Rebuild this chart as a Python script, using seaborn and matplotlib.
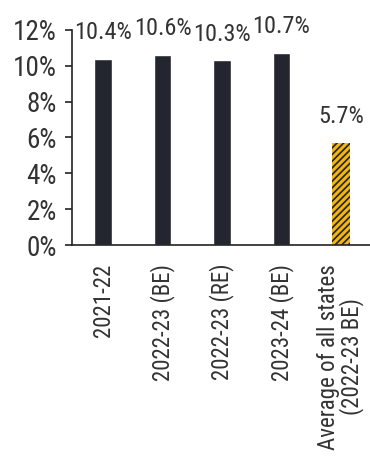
import matplotlib
matplotlib.use("Agg")
import matplotlib.pyplot as plt
import seaborn as sns
import pandas as pd

# === DATA ===
categories = ["2021-22", "2022-23 (BE)", "2022-23 (RE)", "2023-24 (BE)",
              "Average of all states\n(2022-23 BE)"]
values = [10.4, 10.6, 10.3, 10.7, 5.7]
value_labels = ["10.4%", "10.6%", "10.3%", "10.7%", "5.7%"]
bar_colors = ["#23252f", "#23252f", "#23252f", "#23252f", "#f2b512"]
yticks = [0, 2, 4, 6, 8, 10, 12]

df = pd.DataFrame({"cat": categories, "val": values})

sns.set_style("white")
plt.rcParams["font.family"] = ["Roboto Condensed", "Liberation Sans", "DejaVu Sans"]
plt.rcParams["hatch.linewidth"] = 1.2

fig = plt.figure(figsize=(3.7, 4.61), dpi=100)
ax = fig.add_axes([0.195, 0.4685, 0.805, 0.4665])

sns.barplot(data=df, x="cat", y="val", hue="cat", palette=bar_colors,
            width=0.3, legend=False, ax=ax, saturation=1)

# hatched average bar
last = ax.patches[-1]
last.set_hatch("/////")
last.set_edgecolor("#222222")
last.set_linewidth(0)

for i, (v, lab) in enumerate(zip(values, value_labels)):
    ax.annotate(lab, (i, v), xytext=(0, 19), textcoords="offset points",
                ha="center", va="center", fontsize=17.5, color="#333333")

ax.set_xlim(-0.52, 4.49)
ax.set_ylim(0, 12)
ax.set_yticks(yticks)
ax.set_yticklabels([f"{t}%" for t in yticks], fontsize=19.5, color="#333333")
ax.set_xticks(range(len(categories)))
ax.set_xticklabels(categories, rotation=90, fontsize=16.5, color="#333333",
                   ha="center", va="top", multialignment="center",
                   linespacing=0.95)
ax.set_xlabel("")
ax.set_ylabel("")

for s in ["top", "right"]:
    ax.spines[s].set_visible(False)
for s in ["left", "bottom"]:
    ax.spines[s].set_color("#222222")
    ax.spines[s].set_linewidth(1.2)
ax.tick_params(axis="y", left=True, length=5, width=1.2, color="#222222", pad=6)
ax.tick_params(axis="x", bottom=False, pad=10)

fig.savefig("out.png", dpi=100)
